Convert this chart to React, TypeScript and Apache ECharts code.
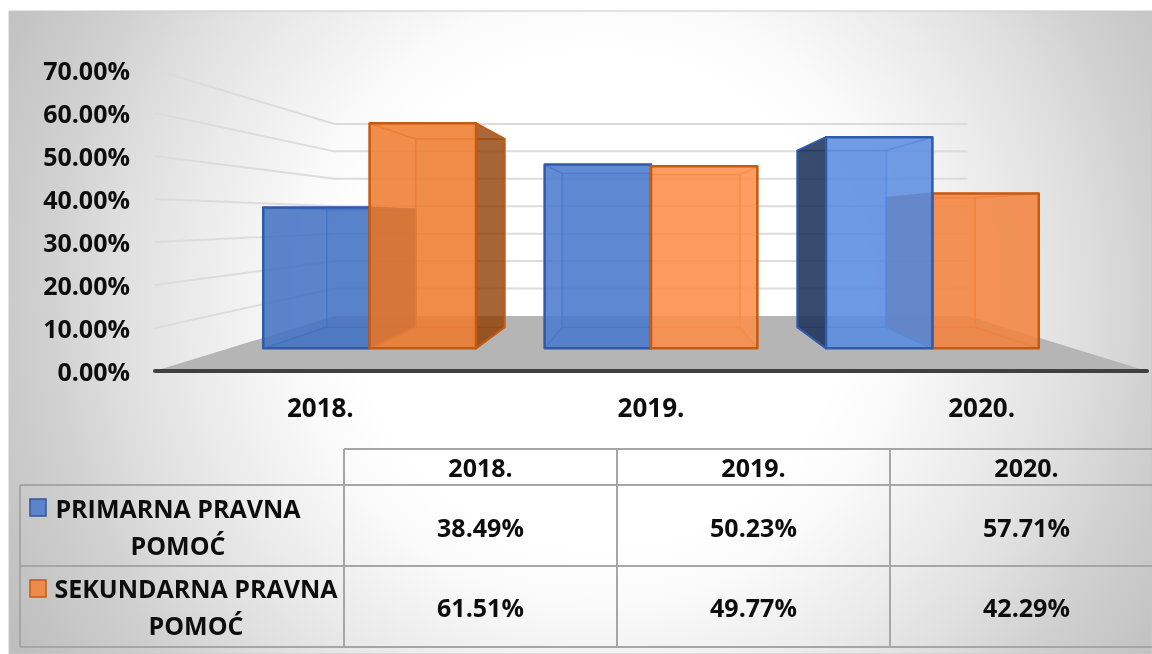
import React, { useEffect, useRef } from "react";
import * as echarts from "echarts";

const categories = ["2018.", "2019.", "2020."];
const primaryName = "PRIMARNA PRAVNA POMOĆ";
const secondaryName = "SEKUNDARNA PRAVNA POMOĆ";
const primaryValues = [38.49, 50.23, 57.71];
const secondaryValues = [61.51, 49.77, 42.29];
const gridTicks = [10, 20, 30, 40, 50, 60, 70];

const FONT = "'Open Sans'";
const TEXT = "#0d0d0d";
const W = 1152;
const H = 654;

// perspective: vanishing height and depth scales relative to the front wall plane
const VP_Y = 219;
const S_WALL_BACK = 0.638;
const S_BAR_FRONT = 0.851;
const S_BAR_BACK = 0.7116;
const BAR_SHARE = 0.378;

const primaryFront = [
  "rgba(68,114,196,0.86)",
  "rgba(74,122,205,0.86)",
  "rgba(92,142,226,0.86)",
];
const secondaryFront = [
  "rgba(237,125,49,0.86)",
  "rgba(253,143,75,0.86)",
  "rgba(243,131,64,0.86)",
];

const palette = {
  primary: {
    back: "rgba(68,114,196,0.22)",
    floor: "rgba(47,85,151,0.22)",
    light: "rgba(68,114,196,0.1)",
    dark: "rgba(29,48,88,0.85)",
    edge: "#2f5ba8",
    inner: "rgba(47,100,190,0.5)",
    front: primaryFront,
  },
  secondary: {
    back: "rgba(237,125,49,0.22)",
    floor: "rgba(197,90,17,0.22)",
    light: "rgba(237,125,49,0.1)",
    dark: "rgba(137,59,0,0.75)",
    edge: "#c55a11",
    inner: "rgba(228,108,30,0.55)",
    front: secondaryFront,
  },
};

function project(vx: number, X: number, Y: number, s: number) {
  return [vx + (X - vx) * s, VP_Y + (Y - VP_Y) * s];
}

function wallRender(_: any, api: any) {
  const cs = _.coordSys;
  const left = cs.x;
  const right = cs.x + cs.width;
  const vx = cs.x + cs.width / 2;
  const base = api.coord([0, 0])[1];
  return {
    type: "polygon",
    silent: true,
    shape: {
      points: [
        [left, base],
        [right, base],
        project(vx, right, base, S_WALL_BACK),
        project(vx, left, base, S_WALL_BACK),
      ],
    },
    style: { fill: "#b5b5b5" },
  };
}

function gridRender(params: any, api: any) {
  const cs = params.coordSys;
  const left = cs.x;
  const right = cs.x + cs.width;
  const vx = cs.x + cs.width / 2;
  const y = api.coord([0, api.value(0)])[1];
  return {
    type: "polyline",
    silent: true,
    shape: {
      points: [
        [left, y],
        project(vx, left, y, S_WALL_BACK),
        project(vx, right, y, S_WALL_BACK),
      ],
    },
    style: { fill: "none", stroke: "#dcdcdc", lineWidth: 2 },
  };
}

function barRender(key: "primary" | "secondary") {
  return (params: any, api: any) => {
    const cs = params.coordSys;
    const vx = cs.x + cs.width / 2;
    const cat = api.value(0);
    const [cx, top] = api.coord([cat, api.value(1)]);
    const base = api.coord([cat, 0])[1];
    const w = api.size([1, 0])[0] * BAR_SHARE;
    const x0 = key === "primary" ? cx - w : cx;
    const x1 = x0 + w;
    const p = palette[key];
    const f = (X: number, Y: number) => project(vx, X, Y, S_BAR_FRONT);
    const b = (X: number, Y: number) => project(vx, X, Y, S_BAR_BACK);
    const order = Math.round((1000 - Math.abs((x0 + x1) / 2 - vx)) * 10);
    const face = (i: number, points: number[][], fill: string, stroke: string, lw: number) => ({
      type: "polygon",
      silent: true,
      z2: order + i,
      shape: { points },
      style: { fill, stroke, lineWidth: lw, lineJoin: "round" },
    });
    const leftDark = x0 > vx + 1;
    const rightDark = x1 < vx - 1;
    return {
      type: "group",
      children: [
        face(0, [b(x0, base), b(x1, base), b(x1, top), b(x0, top)], p.back, p.inner, 1.5),
        face(1, [f(x0, base), f(x1, base), b(x1, base), b(x0, base)], p.floor, p.inner, 1.5),
        face(2, [f(x0, top), f(x1, top), b(x1, top), b(x0, top)], p.light, p.inner, 1.5),
        face(3, [f(x0, base), b(x0, base), b(x0, top), f(x0, top)], leftDark ? p.dark : p.light, leftDark ? p.edge : p.inner, leftDark ? 2 : 1.5),
        face(4, [f(x1, base), b(x1, base), b(x1, top), f(x1, top)], rightDark ? p.dark : p.light, rightDark ? p.edge : p.inner, rightDark ? 2 : 1.5),
        face(5, [f(x0, base), f(x1, base), f(x1, top), f(x0, top)], p.front[cat], p.edge, 2.5),
      ],
    };
  };
}

// table layout
const colX = [344, 617, 890, 1163];
const rowY = [449, 485, 566, 647];
const tableLeft = 20;
const TABLE_LINE = "#a6a6a6";

function tableGraphics() {
  const line = (x1: number, y1: number, x2: number, y2: number) => ({
    type: "line",
    silent: true,
    shape: { x1, y1, x2, y2 },
    style: { stroke: TABLE_LINE, lineWidth: 2 },
  });
  const cell = (x: number, y: number, text: string) => ({
    type: "text",
    silent: true,
    x,
    y,
    style: { text, fill: TEXT, font: `bold 25px ${FONT}`, align: "center", verticalAlign: "middle" },
  });
  const els: any[] = [];
  els.push(line(colX[0], rowY[0], W, rowY[0]));
  els.push(line(tableLeft, rowY[1], W, rowY[1]));
  els.push(line(tableLeft, rowY[2], W, rowY[2]));
  els.push(line(tableLeft, rowY[3], W, rowY[3]));
  els.push(line(tableLeft, rowY[1], tableLeft, rowY[3]));
  colX.slice(0, 3).forEach((x) => els.push(line(x, rowY[0], x, rowY[3])));
  categories.forEach((c, i) => {
    const mid = (colX[i] + colX[i + 1]) / 2;
    els.push(cell(mid, (rowY[0] + rowY[1]) / 2, c));
    els.push(cell(mid, (rowY[1] + rowY[2]) / 2 + 1, primaryValues[i].toFixed(2) + "%"));
    els.push(cell(mid, (rowY[2] + rowY[3]) / 2, secondaryValues[i].toFixed(2) + "%"));
  });
  const legend = (keyY: number, name: string, textX: number, textY: number, fill: string, stroke: string) => {
    els.push({
      type: "rect",
      silent: true,
      shape: { x: 30, y: keyY, width: 16, height: 17 },
      style: { fill, stroke, lineWidth: 1.5 },
    });
    const words = name.split(" ");
    els.push({
      type: "text",
      silent: true,
      x: textX,
      y: textY,
      style: {
        text: words.slice(0, 2).join(" ") + "\n" + words[2],
        fill: TEXT,
        font: `bold 25px ${FONT}`,
        lineHeight: 37,
        align: "center",
        verticalAlign: "middle",
      },
    });
  };
  legend(499, primaryName, 178, 526, "#5b84cc", "#2f5597");
  legend(580, secondaryName, 196, 606, "#ed8b4d", "#c55a11");
  return els;
}

export default function App() {
  const ref = useRef<HTMLDivElement>(null);
  useEffect(() => {
    const chart = echarts.init(ref.current!, null, { renderer: "svg" });
    chart.setOption({
      animation: false,
      graphic: [
        {
          type: "rect",
          silent: true,
          z: -10,
          shape: { x: 9, y: 11, width: W - 9, height: H - 11 },
          style: {
            fill: {
              type: "radial",
              global: true,
              x: 600,
              y: 300,
              r: 680,
              colorStops: [
                { offset: 0, color: "#ffffff" },
                { offset: 0.36, color: "#ffffff" },
                { offset: 0.45, color: "#fafafa" },
                { offset: 0.59, color: "#ececec" },
                { offset: 0.7, color: "#e0e0e0" },
                { offset: 0.82, color: "#d0d0d0" },
                { offset: 1, color: "#bebebe" },
              ],
            },
            stroke: "#c8c8c8",
            lineWidth: 1,
          },
        },
        ...tableGraphics(),
      ],
      grid: { left: 155, right: 5, top: 70, height: 301, containLabel: false },
      xAxis: {
        type: "category",
        z: 5,
        data: categories,
        axisTick: { show: false },
        axisLine: { show: true, lineStyle: { color: "#404040", width: 4, cap: "round" } },
        axisLabel: { margin: 23, color: TEXT, fontFamily: FONT, fontWeight: "bold", fontSize: 26 },
        splitLine: { show: false },
      },
      yAxis: {
        type: "value",
        min: 0,
        max: 70,
        interval: 10,
        axisTick: { show: false },
        axisLine: { show: false },
        splitLine: { show: false },
        axisLabel: {
          margin: 25,
          color: TEXT,
          fontFamily: FONT,
          fontWeight: "bold",
          fontSize: 25,
          formatter: (v: number) => v.toFixed(2) + "%",
        },
      },
      series: [
        { type: "custom", name: "floor", z: 1, clip: false, silent: true, data: [[0]], renderItem: wallRender, encode: { x: -1, y: -1 } },
        { type: "custom", name: "gridlines", z: 1, clip: false, silent: true, data: gridTicks.map((v) => [v]), renderItem: gridRender, encode: { x: -1, y: -1 } },
        {
          type: "custom",
          name: primaryName,
          z: 2,
          clip: false,
          silent: true,
          data: primaryValues.map((v, i) => [i, v]),
          renderItem: barRender("primary"),
          encode: { x: 0, y: 1 },
        },
        {
          type: "custom",
          name: secondaryName,
          z: 2,
          clip: false,
          silent: true,
          data: secondaryValues.map((v, i) => [i, v]),
          renderItem: barRender("secondary"),
          encode: { x: 0, y: 1 },
        },
      ],
    });
    return () => chart.dispose();
  }, []);
  return <div ref={ref} style={{ position: "fixed", left: 0, top: 0, width: W, height: H }} />;
}
